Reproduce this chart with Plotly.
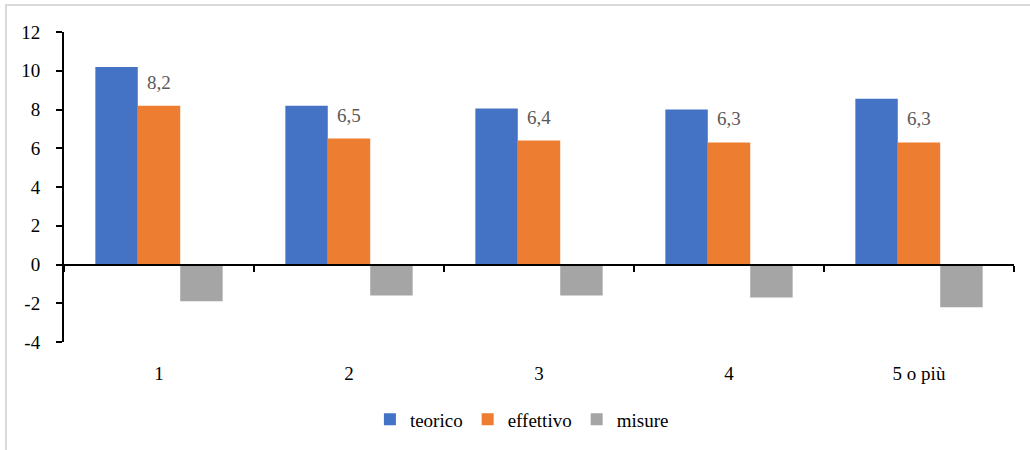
import plotly.graph_objects as go

categories = ["1", "2", "3", "4", "5 o più"]
teorico = [10.2, 8.2, 8.05, 8.0, 8.55]
effettivo = [8.2, 6.5, 6.4, 6.3, 6.3]
misure = [-1.9, -1.6, -1.6, -1.7, -2.2]
series_names = ["teorico", "effettivo", "misure"]
y_tickvals = [-4, -2, 0, 2, 4, 6, 8, 10, 12]
y_ticktext = ["-4", "-2", "0", "2", "4", "6", "8", "10", "12"]

colors = ["#4472C4", "#ED7D31", "#A5A5A5"]
FONT = "Liberation Serif"

fig = go.Figure()
for name, vals, col in zip(series_names, [teorico, effettivo, misure], colors):
    fig.add_trace(go.Bar(x=categories, y=vals, name=name, marker=dict(color=col, line=dict(width=0))))

# invisible helper trace for the axis at y=0
fig.add_trace(go.Scatter(x=categories, y=[0] * len(categories), xaxis="x2", mode="markers",
                         marker=dict(opacity=0), showlegend=False, hoverinfo="skip"))

for i, v in enumerate(effettivo):
    fig.add_annotation(x=i, y=v, xref="x", yref="y", text=f"{v:.1f}".replace(".", ","),
                       showarrow=False, yanchor="bottom", yshift=11,
                       font=dict(family=FONT, size=19, color="#595959"))

fig.update_layout(
    width=1030, height=450,
    margin=dict(l=64, r=16, t=32, b=104),
    paper_bgcolor="white", plot_bgcolor="white",
    barmode="group", bargap=0.33, bargroupgap=0,
    font=dict(family=FONT, size=19, color="black"),
    showlegend=True,
    legend=dict(orientation="h", x=0.482, xanchor="center", y=-0.25, yanchor="middle",
                font=dict(family=FONT, size=19, color="black"), itemwidth=30,
                traceorder="normal"),
    xaxis=dict(type="category", range=[-0.5, 4.5], showline=False, ticks="",
               showgrid=False, zeroline=False, ticklabelstandoff=18,
               tickfont=dict(family=FONT, size=19, color="black")),
    xaxis2=dict(type="category", overlaying="x", anchor="free", position=0.25,
                range=[-0.5, 4.5], showline=True, linecolor="black", linewidth=2,
                ticks="outside", tickson="boundaries", ticklen=6, tickwidth=2,
                tickcolor="black", showticklabels=False, showgrid=False, zeroline=False),
    yaxis=dict(range=[-4, 12], tickvals=y_tickvals, ticktext=y_ticktext,
               showline=True, linecolor="black", linewidth=2, ticks="outside",
               ticklen=6, tickwidth=2, tickcolor="black", showgrid=False, zeroline=False,
               tickfont=dict(family=FONT, size=19, color="black"), ticklabelstandoff=12),
    shapes=[dict(type="rect", xref="paper", yref="paper", x0=-0.0611, x1=1.2,
                 y0=-0.5, y1=1.0867, line=dict(color="#D9D9D9", width=2),
                 fillcolor="rgba(0,0,0,0)", layer="below")],
)

fig.write_html("out.html", config={"displayModeBar": False},
               post_script="document.body.style.margin='0px';")
